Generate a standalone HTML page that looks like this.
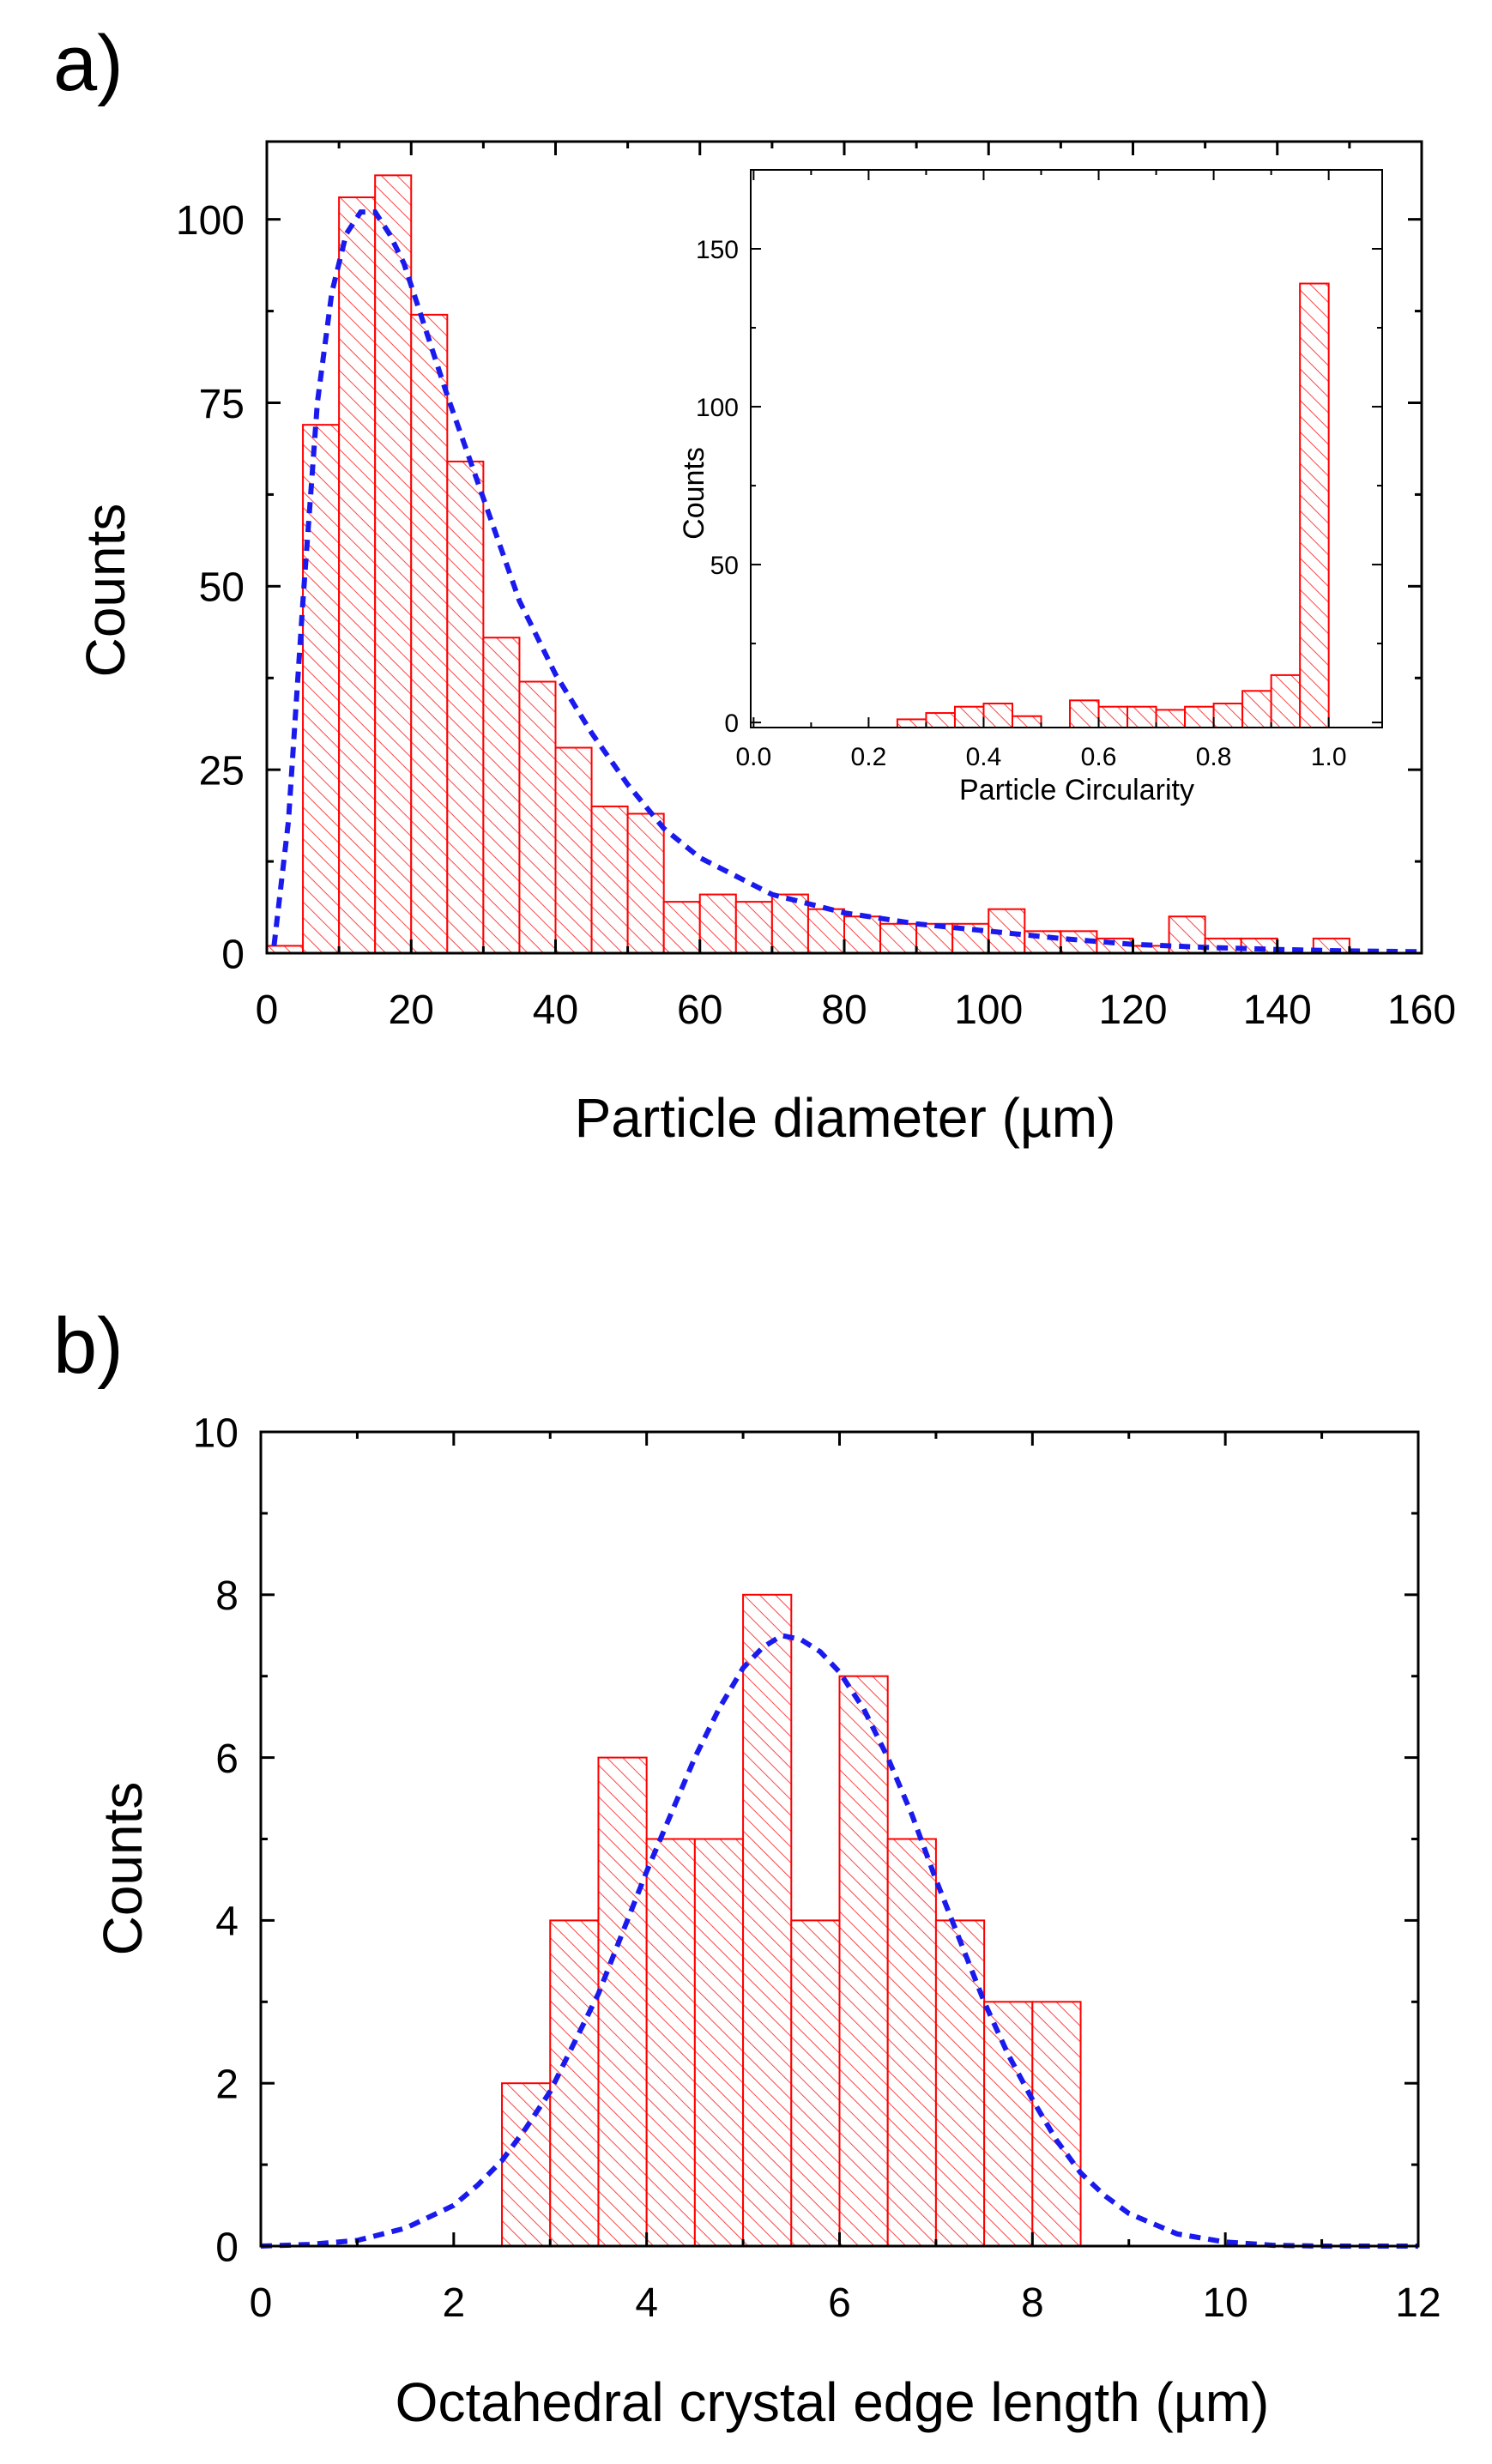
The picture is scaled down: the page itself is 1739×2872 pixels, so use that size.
<!DOCTYPE html>
<html><head><meta charset="utf-8"><style>
html,body{margin:0;padding:0;background:#fff;}
svg{display:block;font-family:"Liberation Sans",Arial,sans-serif;}
</style></head><body>
<svg id="fig" width="1739" height="2872" viewBox="0 0 1739 2872">
<defs>
<pattern id="hatch" patternUnits="userSpaceOnUse" width="13" height="13" patternTransform="rotate(-45)">
<rect width="13" height="13" fill="#fff"/>
<line x1="0" y1="0" x2="0" y2="13" stroke="#f44" stroke-width="2"/>
</pattern>
</defs>
<text x="62" y="105" font-size="92">a)</text>
<text x="62" y="1600" font-size="92">b)</text>
<g id="gA"></g>
<g id="gI"></g>
<g id="gB"></g>
</svg>
<script>
// Panel a data
const aBinStarts=[0,5,10,15,20,25,30,35,40,45,50,55,60,65,70,75,80,85,90,95,100,105,110,115,120,125,130,135,140,145];
const aCounts=[1,72,103,106,87,67,43,37,28,20,19,7,8,7,8,6,5,4,4,4,6,3,3,2,1,5,2,2,0,2];
const aFitX=[1,3,5,7,9,11,13,15,17,19,22,25,30,35,40,45,50,55,60,70,80,90,100,110,120,130,140,150,160];
const aFitY=[1,18,48,75,90,98,101,101,98,94,85,76,62,48,38,30,23,17,13,8,5.5,4,3,2,1.2,0.8,0.5,0.3,0.2];
const aXTicks=[0,20,40,60,80,100,120,140,160];
const aYTicks=[0,25,50,75,100];
// Inset data
const iBinStarts=[0.25,0.3,0.35,0.4,0.45,0.5,0.55,0.6,0.65,0.7,0.75,0.8,0.85,0.9,0.95];
const iCounts=[1,3,5,6,2,0,7,5,5,4,5,6,10,15,139];
const iXTicks=[0.0,0.2,0.4,0.6,0.8,1.0];
const iYTicks=[0,50,100,150];
// Panel b data
const bBinStarts=[2.5,3,3.5,4,4.5,5,5.5,6,6.5,7,7.5,8];
const bCounts=[2,4,6,5,5,8,4,7,5,4,3,3];
const bFitX=[0,0.5,1,1.5,2,2.25,2.5,2.75,3,3.25,3.5,3.75,4,4.25,4.5,4.75,5,5.2,5.4,5.6,5.8,6,6.25,6.5,6.75,7,7.25,7.5,7.75,8,8.25,8.5,8.75,9,9.5,10,10.5,11,12];
const bFitY=[0,0.02,0.07,0.22,0.5,0.75,1.05,1.45,1.9,2.5,3.1,3.85,4.6,5.3,6.0,6.6,7.1,7.35,7.5,7.45,7.3,7.05,6.6,6.0,5.3,4.5,3.75,3.0,2.35,1.8,1.3,0.9,0.62,0.4,0.15,0.05,0.01,0,0];
const bXTicks=[0,2,4,6,8,10,12];
const bYTicks=[0,2,4,6,8,10];

const NS="http://www.w3.org/2000/svg";
function el(g,tag,attrs,text){const e=document.createElementNS(NS,tag);for(const k in attrs)e.setAttribute(k,attrs[k]);if(text!==undefined)e.textContent=text;g.appendChild(e);return e;}

function drawChart(g,o){
  const sx=v=>o.L+(v-o.x0)/(o.x1-o.x0)*(o.R-o.L);
  const sy=v=>o.B-(v-o.y0)/(o.y1-o.y0)*(o.B-o.T);
  o.starts.forEach((s,i)=>{
    if(o.counts[i]<=0)return;
    const x=sx(s),w=sx(s+o.bw)-x,y=sy(o.counts[i]);
    const r=el(g,'rect',{x:x,y:y,width:w,height:o.B-y,fill:'url(#hatch)',stroke:'#f00','stroke-width':o.bs});
    
    
  });
  if(o.fx){
    const d=o.fx.map((x,i)=>(i?'L':'M')+sx(x).toFixed(1)+','+sy(o.fy[i]).toFixed(1)).join(' ');
    const p=el(g,'path',{d:d,fill:'none',stroke:'#1a1aee','stroke-width':6,'stroke-dasharray':'13 9'});
    
    
  }
  const f=el(g,'rect',{x:o.L,y:o.T,width:o.R-o.L,height:o.B-o.T,fill:'none',stroke:'#000','stroke-width':o.fw});
  
  
  const xt=o.xt,yt=o.yt;
  for(let i=0;i<xt.length;i++){
    const x=sx(xt[i]);
    el(g,'line',{x1:x,y1:o.B,x2:x,y2:o.B+o.tk,stroke:'#000','stroke-width':o.fw});
    el(g,'line',{x1:x,y1:o.T,x2:x,y2:o.T-o.tk,stroke:'#000','stroke-width':o.fw});
    if(i<xt.length-1){const m=sx((xt[i]+xt[i+1])/2);
      el(g,'line',{x1:m,y1:o.B,x2:m,y2:o.B+o.tk/2,stroke:'#000','stroke-width':o.fw});
      el(g,'line',{x1:m,y1:o.T,x2:m,y2:o.T-o.tk/2,stroke:'#000','stroke-width':o.fw});}
    const t=el(g,'text',{x:x,y:o.B+o.xlo,'font-size':o.fs,'text-anchor':'middle'},o.fmtX(xt[i]));
    
    
  }
  for(let i=0;i<yt.length;i++){
    const y=sy(yt[i]);
    el(g,'line',{x1:o.L-o.tk,y1:y,x2:o.L,y2:y,stroke:'#000','stroke-width':o.fw});
    el(g,'line',{x1:o.R+o.tk,y1:y,x2:o.R,y2:y,stroke:'#000','stroke-width':o.fw});
    if(i<yt.length-1){const m=sy((yt[i]+yt[i+1])/2);
      el(g,'line',{x1:o.L-o.tk/2,y1:m,x2:o.L,y2:m,stroke:'#000','stroke-width':o.fw});
      el(g,'line',{x1:o.R+o.tk/2,y1:m,x2:o.R,y2:m,stroke:'#000','stroke-width':o.fw});}
    const t=el(g,'text',{x:o.L-o.ylo,y:y+o.fs*0.36,'font-size':o.fs,'text-anchor':'end'},String(yt[i]));
    
    
  }
  const xl=el(g,'text',{x:o.xlx,y:o.xly,'font-size':o.tfs,'text-anchor':'middle'},o.xlab);
  
  
  const yl=el(g,'text',{x:0,y:0,'font-size':o.tfs,'text-anchor':'middle',transform:`translate(${o.ylx},${o.yly}) rotate(-90)`},o.ylab);
  
  
}
drawChart(document.getElementById('gA'),{L:311,R:1657,T:165,B:1111,x0:0,x1:160,y0:0,y1:110.6,
  starts:aBinStarts,counts:aCounts,bw:5,fx:aFitX,fy:aFitY,xt:aXTicks,yt:aYTicks,fmtX:v=>String(v),
  fw:3,bs:2,tk:-16,fs:48,xlo:82,ylo:26,tfs:64,xlab:'Particle diameter (µm)',xlx:985,xly:1325,ylab:'Counts',ylx:145,yly:688});
(function(){const r=el(document.getElementById('gI'),'rect',{x:875,y:198,width:736,height:650,fill:'#fff'});

})();
drawChart(document.getElementById('gI'),{L:875,R:1611,T:198,B:848,x0:-0.005,x1:1.093,y0:-1.6,y1:175,
  starts:iBinStarts,counts:iCounts,bw:0.05,xt:iXTicks,yt:iYTicks,fmtX:v=>v.toFixed(1),
  fw:2,bs:2,tk:-12,fs:30,xlo:44,ylo:14,tfs:34,xlab:'Particle Circularity',xlx:1255,xly:932,ylab:'Counts',ylx:820,yly:575});
drawChart(document.getElementById('gB'),{L:304,R:1653,T:1669,B:2618,x0:0,x1:12,y0:0,y1:10,
  starts:bBinStarts,counts:bCounts,bw:0.5,fx:bFitX,fy:bFitY,xt:bXTicks,yt:bYTicks,fmtX:v=>String(v),
  fw:3,bs:2,tk:-16,fs:48,xlo:82,ylo:26,tfs:64,xlab:'Octahedral crystal edge length (µm)',xlx:970,xly:2822,ylab:'Counts',ylx:165,yly:2178});
</script>
</body></html>
